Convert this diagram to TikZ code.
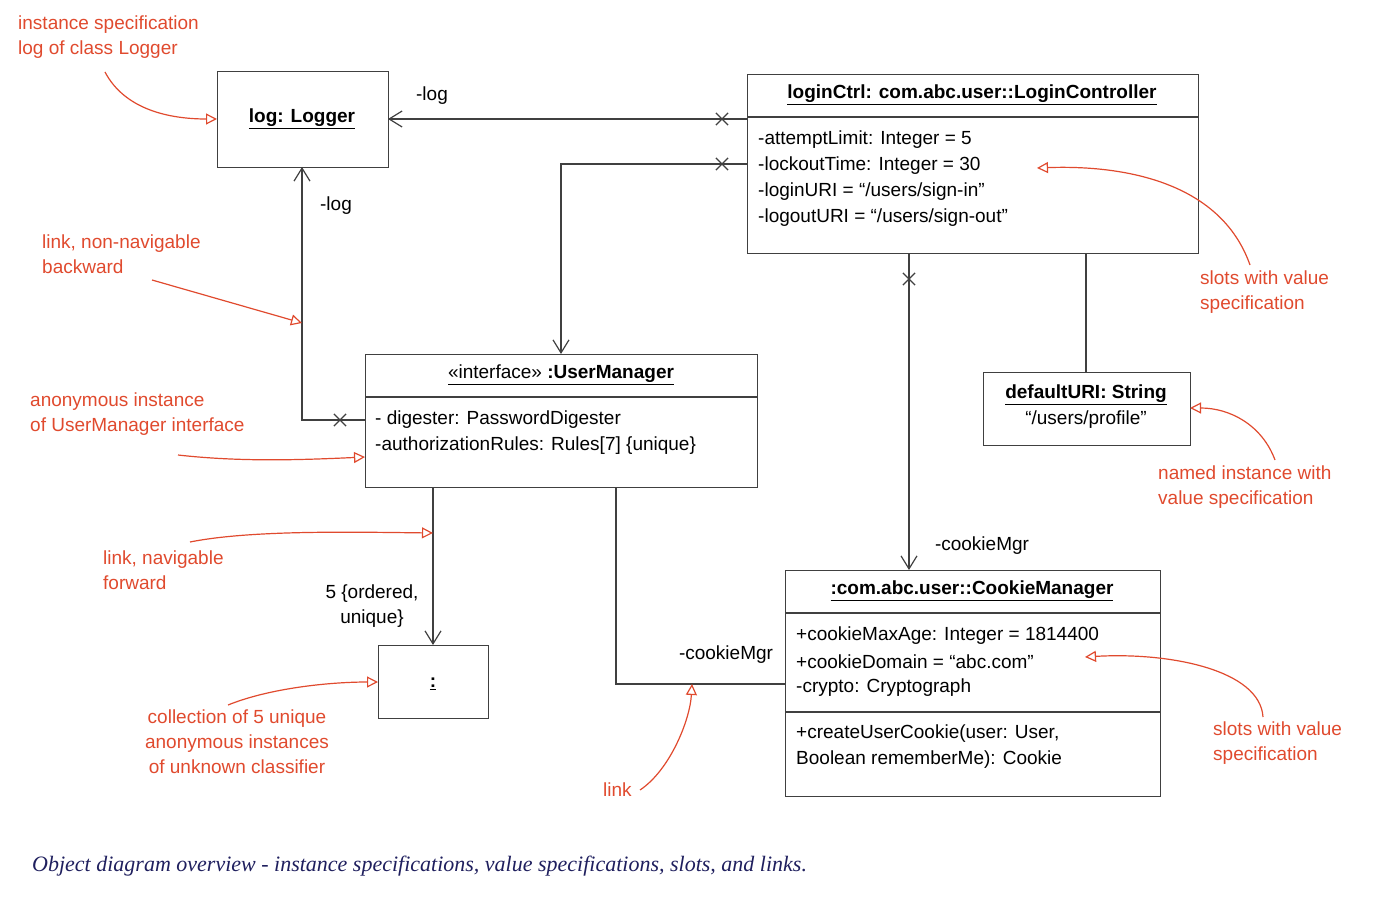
\documentclass[tikz,border=0pt]{standalone}
\usepackage{fontspec}
\setmainfont{Liberation Sans}
\newfontfamily\capfont{Liberation Serif}
\usetikzlibrary{arrows.meta,shapes.misc}
\definecolor{ann}{HTML}{E04A2E}
\definecolor{capc}{HTML}{1F1F5E}
\begin{document}
\begin{tikzpicture}[x=1pt,y=-1pt,
  box/.style={draw=black!75,line width=1.2pt},
  t/.style={font=\fontsize{19}{25}\selectfont,inner sep=0pt,anchor=west},
  tt/.style={font=\fontsize{19}{25}\selectfont\bfseries,inner sep=0pt},
  lbl/.style={font=\fontsize{19}{25}\selectfont,inner sep=0pt},
  con/.style={draw=black!75,line width=1.2pt},
  nav/.style={con,-{Straight Barb[length=13pt,width=16pt,line width=1.2pt]}},
  xm/.style={cross out,draw=black!75,line width=1.2pt,minimum size=11pt,inner sep=0pt},
  an/.style={font=\fontsize{19}{25}\selectfont,text=ann,inner sep=0pt,align=left,anchor=north west},
  aa/.style={draw=ann,line width=1.2pt,-{Triangle[open,length=11pt,width=11pt]}}]
\useasboundingbox (0,0) rectangle (1400,904);
% boxes
\node[box,minimum width=171pt,minimum height=96pt,anchor=north west] (log) at (217,71) {};
\node[tt] at (302,119) {\underline{log: Logger}};
\node[box,minimum width=451pt,minimum height=179pt,anchor=north west] (lc) at (747,74) {};
\draw[con] (747,117) -- (1198,117);
\node[tt] at (972,95) {\underline{loginCtrl: com.abc.user::LoginController}};
\node[t] at (758,140) {-attemptLimit: Integer = 5};
\node[t] at (758,166) {-lockoutTime: Integer = 30};
\node[t] at (758,192) {-loginURI = “/users/sign-in”};
\node[t] at (758,218) {-logoutURI = “/users/sign-out”};
\node[box,minimum width=392pt,minimum height=133pt,anchor=north west] (um) at (365,354) {};
\draw[con] (365,397) -- (757,397);
\node[lbl] at (561,375) {\underline{«interface» \textbf{:UserManager}}};
\node[t] at (375,420) {- digester: PasswordDigester};
\node[t] at (375,446) {-authorizationRules: Rules[7] \{unique\}};
\node[box,minimum width=207pt,minimum height=73pt,anchor=north west] (du) at (983,372) {};
\node[tt] at (1086,395) {\underline{defaultURI: String}};
\node[lbl] at (1086,420) {“/users/profile”};
\node[box,minimum width=110pt,minimum height=73pt,anchor=north west] (col) at (378,645) {};
\node[tt] at (433,684) {\underline{:}};
\node[box,minimum width=375pt,minimum height=226pt,anchor=north west] (cm) at (785,570) {};
\draw[con] (785,613) -- (1160,613);
\draw[con] (785,712) -- (1160,712);
\node[tt] at (972,591) {\underline{:com.abc.user::CookieManager}};
\node[t] at (796,636) {+cookieMaxAge: Integer = 1814400};
\node[t] at (796,662) {+cookieDomain = “abc.com”};
\node[t] at (796,688) {-crypto: Cryptograph};
\node[t] at (796,734) {+createUserCookie(user: User,};
\node[t] at (796,760) {Boolean rememberMe): Cookie};
% connectors
\coordinate (a1) at (747,119); \coordinate (a2) at (388,119);
\draw[nav] (a1) -- (a2);
\node[xm] (x1) at (722,119) {};
\node[lbl] (l1) at (432,96) {-log};
\coordinate (b1) at (747,164); \coordinate (b2) at (561,164); \coordinate (b3) at (561,354);
\draw[nav] (b1) -- (b2) -- (b3);
\node[xm] (x2) at (722,164) {};
\coordinate (c1) at (365,420); \coordinate (c2) at (302,420); \coordinate (c3) at (302,167);
\draw[nav] (c1) -- (c2) -- (c3);
\node[xm] (x3) at (340,420) {};
\node[lbl] (l2) at (336,206) {-log};
\coordinate (d1) at (909,253); \coordinate (d2) at (909,570);
\draw[nav] (d1) -- (d2);
\node[xm] (x4) at (909,279) {};
\node[lbl] (l3) at (982,546) {-cookieMgr};
\coordinate (e1) at (1086,253); \coordinate (e2) at (1086,372);
\draw[con] (e1) -- (e2);
\coordinate (f1) at (433,487); \coordinate (f2) at (433,645);
\draw[nav] (f1) -- (f2);
\node[lbl,align=center] (l4) at (372,606) {5 \{ordered,\\unique\}};
\coordinate (g1) at (616,487); \coordinate (g2) at (616,684); \coordinate (g3) at (785,684);
\draw[con] (g1) -- (g2) -- (g3);
\node[lbl] (l5) at (726,655) {-cookieMgr};
% annotations
\node[an] (n1) at (18,16) {instance specification\\log of class Logger};
\draw[aa] (105,72) .. controls (125,110) and (170,119) .. (217,119);
\node[an] (n2) at (42,235) {link, non-navigable\\backward};
\draw[aa] (152,280) -- (302,323);
\node[an] (n3) at (30,393) {anonymous instance\\of UserManager interface};
\draw[aa] (178,455) .. controls (240,462) and (300,460) .. (365,457);
\node[an] (n4) at (103,551) {link, navigable\\forward};
\draw[aa] (190,542) .. controls (250,530) and (350,532) .. (433,533);
\node[an,align=center,anchor=north] (n5) at (237,710) {collection of 5 unique\\anonymous instances\\of unknown classifier};
\draw[aa] (228,705) .. controls (270,688) and (330,682) .. (378,682);
\node[an] (n6) at (603,783) {link};
\draw[aa] (640,790) .. controls (670,770) and (690,720) .. (692,684);
\node[an] (n7) at (1200,271) {slots with value\\specification};
\draw[aa] (1250,265) .. controls (1220,180) and (1120,165) .. (1037,168);
\node[an] (n8) at (1158,466) {named instance with\\value specification};
\draw[aa] (1275,460) .. controls (1262,425) and (1230,408) .. (1190,408);
\node[an] (n9) at (1213,722) {slots with value\\specification};
\draw[aa] (1263,717) .. controls (1260,670) and (1170,652) .. (1085,657);
\node[font=\capfont\itshape\fontsize{22}{26}\selectfont,text=capc,anchor=west,inner sep=0pt] (cap) at (32,866) {Object diagram overview - instance specifications, value specifications, slots, and links.};
\end{tikzpicture}
\end{document}
